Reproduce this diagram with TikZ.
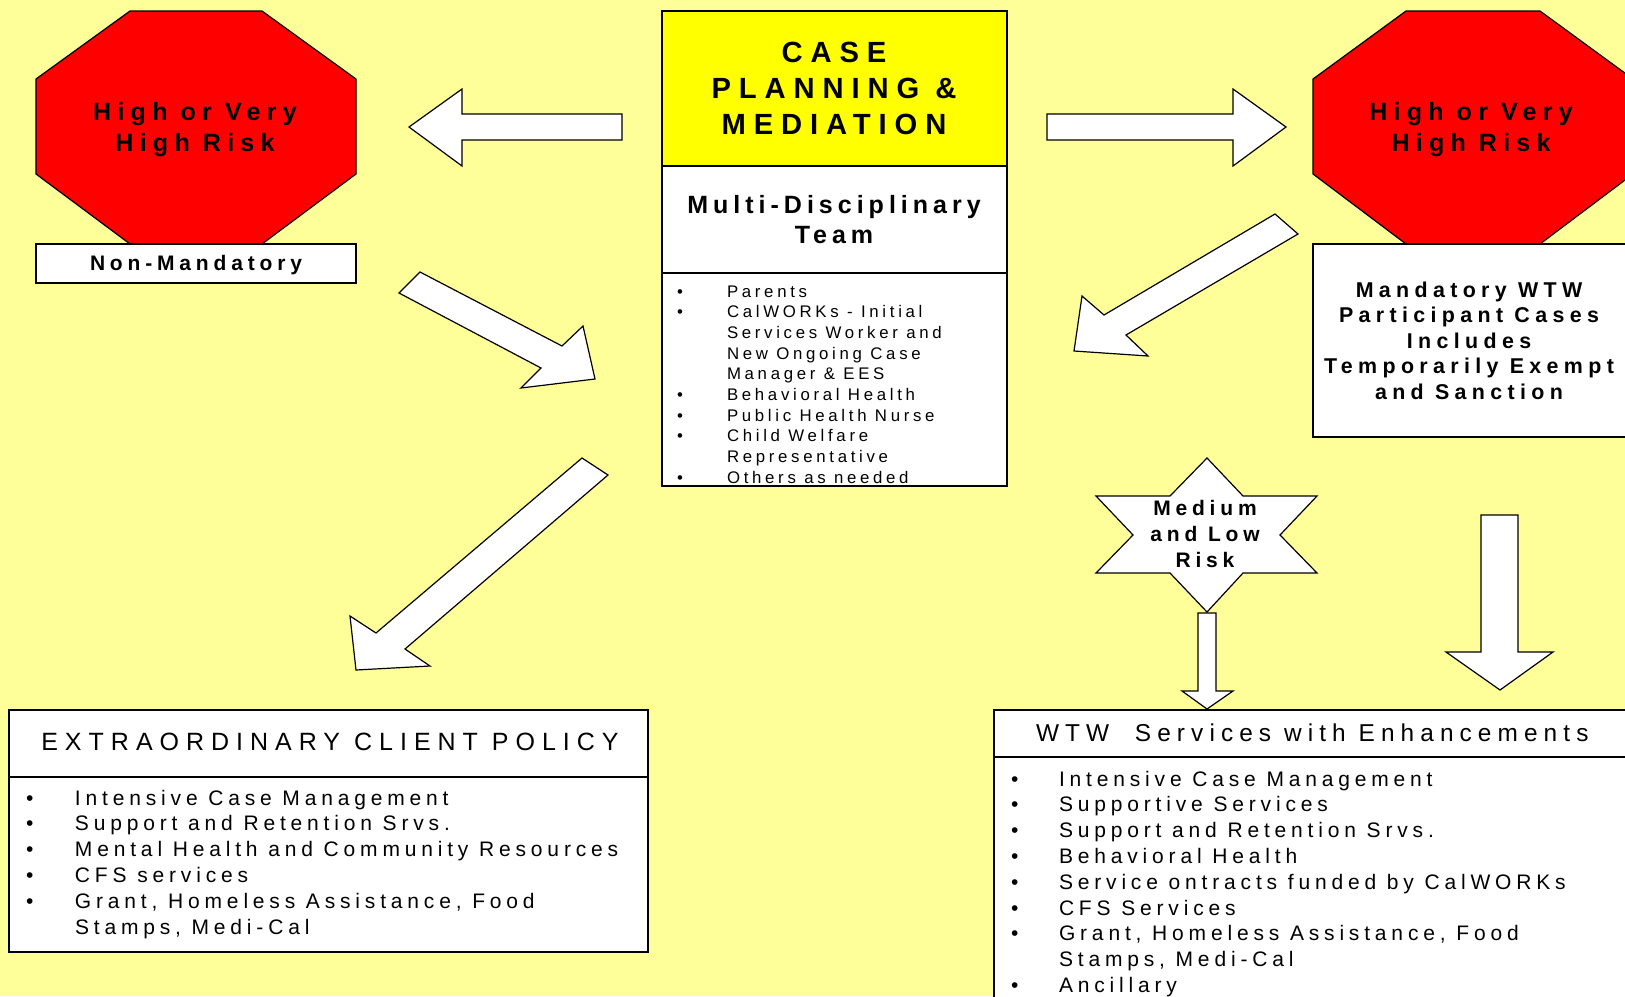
\documentclass[tikz,border=0pt]{standalone}
\usepackage{fontspec}
\setmainfont{Liberation Sans}
\newfontfamily\lsa{Liberation Sans}[LetterSpace=20]
\newfontfamily\lsl{Liberation Sans}[LetterSpace=23]
\newfontfamily\lsm{Liberation Sans}[LetterSpace=22]
\newfontfamily\lsb{Liberation Sans}[LetterSpace=23]
\newfontfamily\lso{Liberation Sans}[LetterSpace=25]
\newfontfamily\lst{Liberation Sans}[LetterSpace=25]
\newfontfamily\lse{Liberation Sans}[LetterSpace=28]
\newfontfamily\lsc{Liberation Sans}[LetterSpace=27]
\definecolor{bg}{HTML}{FFFF99}
\definecolor{hdr}{HTML}{FFFF00}
\definecolor{stopred}{HTML}{FF0000}
\newlength\bw
\newcommand\ctab[1]{\begin{tabular}[t]{@{}c@{}}#1\end{tabular}}
\newcommand\blist[2]{\setlength\bw{#1}\begin{tabular}[t]{@{}l@{}l@{}}#2\end{tabular}}
\newcommand\bi{\makebox[\bw][l]{\textbullet}}
\begin{document}
\begin{tikzpicture}[x=0.5pt,y=-0.5pt,
  outl/.style={draw=black, line width=0.6pt, line join=miter},
  blockarrow/.style={outl, fill=white},
  txt/.style={inner sep=0pt, outer sep=0pt, anchor=base},
  octtext/.style={txt, font=\lso\bfseries\fontsize{12.5}{15.5}\selectfont},
  boldsmall/.style={txt, font=\lsb\bfseries\fontsize{10.5}{13}\selectfont},
  mandtext/.style={txt, font=\lso\bfseries\fontsize{10.7}{12.75}\selectfont},
  headtext/.style={txt, font=\lsc\bfseries\fontsize{14.6}{18}\selectfont},
  mdttext/.style={txt, font=\lsa\bfseries\fontsize{12.5}{15}\selectfont},
  titletext/.style={txt, font=\lst\fontsize{12.2}{15}\selectfont},
  ecptext/.style={txt, font=\lse\fontsize{12.5}{15}\selectfont},
  listtext/.style={inner sep=0pt, outer sep=0pt, anchor=base west, font=\lsl\fontsize{10.5}{12.9}\selectfont},
  teamtext/.style={inner sep=0pt, outer sep=0pt, anchor=base west, font=\lsm\fontsize{8.4}{10.35}\selectfont}
]
\clip (0,0) rectangle (1625,996);
\fill[bg] (0,0) rectangle (1625,996);

% left stop sign
\filldraw[outl, fill=stopred] (130,11) -- (262,11) -- (356,79) -- (356,174) -- (262,244) -- (130,244) -- (36,174) -- (36,79) -- cycle;
\node[octtext] (lstop) at (195,120) {\ctab{High or Very\\High Risk}};
\filldraw[outl, fill=white] (36,244) rectangle (356,283);
\node[boldsmall] (nonmand) at (196,270) {Non-Mandatory};

% right stop sign
\filldraw[outl, fill=stopred] (1406,11) -- (1540,11) -- (1633,79) -- (1633,174) -- (1540,244) -- (1406,244) -- (1313,174) -- (1313,79) -- cycle;
\node[octtext] (rstop) at (1471,120) {\ctab{High or Very\\High Risk}};
\filldraw[outl, fill=white] (1313,244) rectangle (1640,437);
\node[mandtext] (mand) at (1469,297) {\ctab{Mandatory WTW\\Participant Cases\\Includes\\Temporarily Exempt\\and Sanction}};

% central box
\filldraw[outl, fill=white] (662,11) rectangle (1007,486);
\filldraw[outl, fill=hdr] (662,11) rectangle (1007,166);
\draw[outl] (662,273) -- (1007,273);
\node[headtext] (case) at (834,62) {\ctab{CASE\\PLANNING \&\\MEDIATION}};
\node[mdttext] (mdt) at (834,213) {\ctab{Multi-Disciplinary\\Team}};
\node[teamtext] (team) at (677,297) {\blist{25pt}{%
\bi & Parents\\
\bi & CalWORKs - Initial\\
 & Services Worker and\\
 & New Ongoing Case\\
 & Manager \& EES\\
\bi & Behavioral Health\\
\bi & Public Health Nurse\\
\bi & Child Welfare\\
 & Representative\\
\bi & Others as needed}};

% block arrows
\filldraw[blockarrow] (409,127) -- (462,89) -- (462,114) -- (622,114) -- (622,140) -- (462,140) -- (462,166) -- cycle;
\filldraw[blockarrow] (1047,114) -- (1233,114) -- (1233,89) -- (1286,127) -- (1233,166) -- (1233,140) -- (1047,140) -- cycle;
\filldraw[blockarrow] (420,272) -- (562,346) -- (583,326) -- (595,379) -- (521,388) -- (541,368) -- (399,293) -- cycle;
\filldraw[blockarrow] (1275,214) -- (1104,315) -- (1082,296) -- (1074,351) -- (1148,356) -- (1126,335) -- (1298,234) -- cycle;
\filldraw[blockarrow] (582,458) -- (376,633) -- (350,616) -- (356,670) -- (430,666) -- (405,649) -- (608,475) -- cycle;
\filldraw[blockarrow] (1198,613) -- (1216,613) -- (1216,691) -- (1233,691) -- (1207,709) -- (1182,691) -- (1198,691) -- cycle;
\filldraw[blockarrow] (1481,515) -- (1518,515) -- (1518,652) -- (1553,652) -- (1500,690) -- (1446,652) -- (1481,652) -- cycle;

% star
\filldraw[outl, fill=white] (1207,458) -- (1243,496) -- (1317,496) -- (1280,535) -- (1317,573) -- (1243,573) -- (1207,612) -- (1170,573) -- (1096,573) -- (1133,535) -- (1096,496) -- (1170,496) -- cycle;
\node[boldsmall] (risk) at (1205,515) {\ctab{Medium\\and Low\\Risk}};

% extraordinary client policy box
\filldraw[outl, fill=white] (9,710) rectangle (648,952);
\draw[outl] (9,777) -- (648,777);
\node[ecptext] (ecp) at (330,750) {EXTRAORDINARY CLIENT POLICY};
\node[listtext] (ecplist) at (26,805) {\blist{24.5pt}{%
\bi & Intensive Case Management\\
\bi & Support and Retention Srvs.\\
\bi & Mental Health and Community Resources\\
\bi & CFS services\\
\bi & Grant, Homeless Assistance, Food\\
 & Stamps, Medi-Cal}};

% WTW services box
\filldraw[outl, fill=white] (994,710) rectangle (1640,1010);
\draw[outl] (994,757) -- (1640,757);
\node[titletext, anchor=base west] (wtw) at (1036,741) {WTW\ \ Services with Enhancements};
\node[listtext] (wtwlist) at (1011,786) {\blist{24pt}{%
\bi & Intensive Case Management\\
\bi & Supportive Services\\
\bi & Support and Retention Srvs.\\
\bi & Behavioral Health\\
\bi & Service ontracts funded by CalWORKs\\
\bi & CFS Services\\
\bi & Grant, Homeless Assistance, Food\\
 & Stamps, Medi-Cal\\
\bi & Ancillary}};
\end{tikzpicture}
\end{document}
